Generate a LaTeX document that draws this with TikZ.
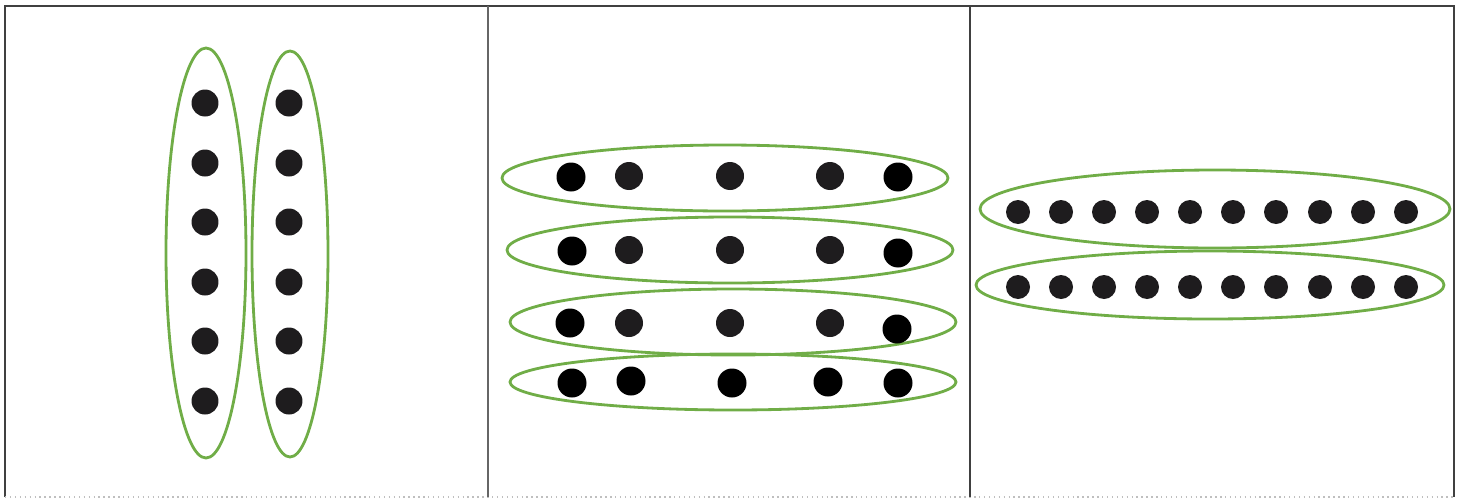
\documentclass[tikz,border=0pt]{standalone}
\definecolor{groupgreen}{RGB}{112,173,71}
\definecolor{dotgray}{RGB}{30,28,30}
\tikzset{every picture/.style={line width=0.75pt}}
\tikzset{
  group/.style={line width=1.6pt, color=groupgreen},
  pixdot/.style={fill=dotgray},
  soliddot/.style={fill=black},
  frame/.style={line width=1.4pt, color=black!75}
}

\begin{document}
\begin{tikzpicture}[x=0.02cm, y=-0.02cm]
        \useasboundingbox (0,0) rectangle (1465,501);
        % frame and dividers
        \draw[frame] (5,497) -- (5,6) -- (1454,6) -- (1454,497);
        \draw[line width=0.8pt, color=black!25, dotted] (5,497) -- (1454,497);
        \draw[frame, color=black!60] (488,6) -- (488,497);
        \draw[frame] (970,6) -- (970,497);
        % left panel: two columns
        \draw[group] (206,253) ellipse (40 and 205);
        \draw[group] (290,254) ellipse (38 and 203);
        \foreach \y in {103,163,222,282,341,401} {
            \fill[pixdot] (205,\y) circle (0.27cm);
            \fill[pixdot] (289,\y) circle (0.27cm);
        }
        % middle panel: four rows
        \draw[group] (725,178) ellipse (223 and 33);
        \draw[group] (730,250) ellipse (223 and 33);
        \draw[group] (733,322) ellipse (223 and 33);
        \draw[group] (733,382) ellipse (223 and 28);
        \foreach \x/\y in {571/177, 898/177, 572/251, 898/253, 570/323, 897/329,
                           572/383, 631/381, 732/383, 828/382, 898/383}
            \fill[soliddot] (\x,\y) circle (0.29cm);
        \foreach \y in {176,250,323}
            \foreach \x in {629,730,830}
                \fill[pixdot] (\x,\y) circle (0.28cm);
        % right panel: two long rows
        \draw[group] (1215,209) ellipse (235 and 39);
        \draw[group] (1210,285) ellipse (234 and 34);
        \foreach \x in {1018,1061,1104,1147,1190,1233,1276,1320,1363,1406} {
            \fill[pixdot] (\x,212) circle (0.24cm);
            \fill[pixdot] (\x,287) circle (0.24cm);
        }
\end{tikzpicture}
\end{document}
